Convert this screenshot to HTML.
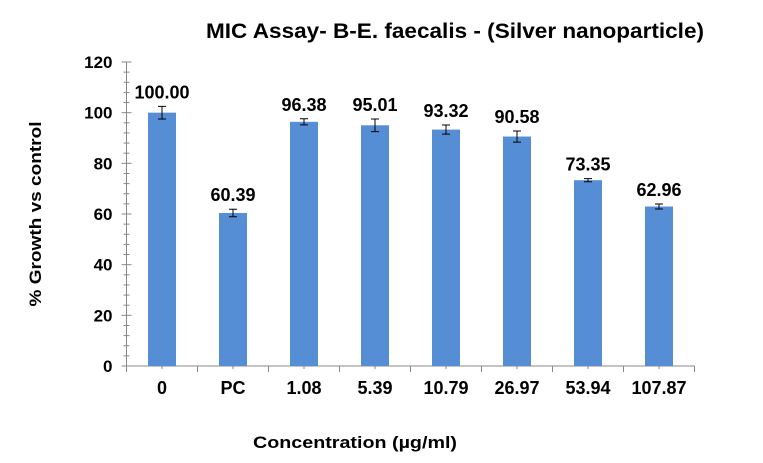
<!DOCTYPE html>
<html><head><meta charset="utf-8"><style>
body{margin:0;background:#fff;font-family:"Liberation Sans",Arial,sans-serif}
</style></head><body>
<svg id="c" width="763" height="458" xmlns="http://www.w3.org/2000/svg"></svg>
<script>
const categories=["0","PC","1.08","5.39","10.79","26.97","53.94","107.87"];
const values=[100.00,60.39,96.38,95.01,93.32,90.58,73.35,62.96];
const errors=[2.5,1.5,1.2,2.5,1.8,2.2,0.6,1.0];
const yTicks=[0,20,40,60,80,100,120];
const NS="http://www.w3.org/2000/svg";
const svg=document.getElementById('c');
const L=126.5,R=694.5,Y0=366,Ytop=62,yMax=120;
const y=v=>Y0-(v/yMax)*(Y0-Ytop);
const step=(R-L)/categories.length;
const xc=i=>L+step*(i+0.5);
function mk(t,a,txt){const e=document.createElementNS(NS,t);for(const k in a)e.setAttribute(k,a[k]);if(txt!=null)e.textContent=txt;svg.appendChild(e);return e;}
let e;
e=mk('text',{x:455,y:38,'text-anchor':'middle','font-size':21,'font-weight':'bold',textLength:498,lengthAdjust:'spacingAndGlyphs'},'MIC Assay- B-E. faecalis - (Silver nanoparticle)');

e=mk('text',{x:355,y:448,'text-anchor':'middle','font-size':17,'font-weight':'bold',textLength:204,lengthAdjust:'spacingAndGlyphs'},'Concentration (µg/ml)');

e=mk('text',{x:0,y:0,transform:'translate(41,214) rotate(-90)','text-anchor':'middle','font-size':17,'font-weight':'bold',textLength:185,lengthAdjust:'spacingAndGlyphs'},'% Growth vs control');

e=mk('line',{x1:L,y1:Ytop,x2:L,y2:Y0,stroke:'#888','stroke-width':1});

for(let v=0;v<=yMax;v+=4){const yy=y(v);const major=v%20===0;
 e=mk('line',{x1:L-(major?5:3),y1:yy,x2:L+(major?5:3),y2:yy,stroke:'#888','stroke-width':1});
 }
yTicks.forEach(v=>{e=mk('text',{x:L-14,y:y(v)+6,'text-anchor':'end','font-size':17,'font-weight':'bold'},String(v));
 });
e=mk('line',{x1:L,y1:Y0,x2:R,y2:Y0,stroke:'#888','stroke-width':1});

for(let i=0;i<=categories.length;i++){e=mk('line',{x1:L+step*i,y1:Y0,x2:L+step*i,y2:Y0+6,stroke:'#888'});
 }
categories.forEach((c,i)=>{
 e=mk('line',{x1:xc(i),y1:Y0,x2:xc(i),y2:Y0+3,stroke:'#888'});
 
 e=mk('text',{x:xc(i),y:Y0+28,'text-anchor':'middle','font-size':18,'font-weight':'bold'},c);
 
 const v=values[i],bw=28;
 e=mk('rect',{x:xc(i)-bw/2,y:y(v),width:bw,height:Y0-y(v),fill:'#558ed5'});
 
 const t=y(v+errors[i]),b=y(v-errors[i]);
 e=mk('path',{d:`M${xc(i)},${t}V${b}M${xc(i)-4},${t}H${xc(i)+4}M${xc(i)-4},${b}H${xc(i)+4}`,stroke:'#000','stroke-width':1,fill:'none'});
 
 e=mk('text',{x:xc(i),y:t-8,'text-anchor':'middle','font-size':18,'font-weight':'bold'},v.toFixed(2));
 
});
</script>
</body></html>
